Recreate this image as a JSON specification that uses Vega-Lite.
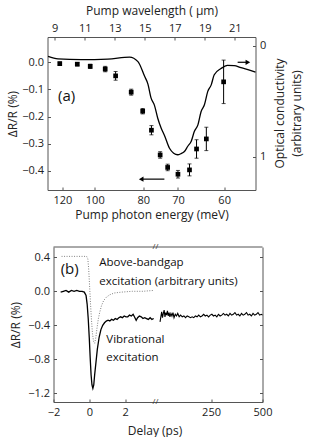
{
  "$schema": "https://vega.github.io/schema/vega-lite/v6.json",
  "background": "white",
  "padding": {"left": 6.5, "top": 4, "right": 2, "bottom": 2},
  "spacing": 23,
  "config": {
    "font": "Open Sans",
    "view": {"stroke": null},
    "axis": {
      "labelFont": "Open Sans", "titleFont": "Open Sans",
      "labelFontSize": 11, "titleFontSize": 12, "titleFontWeight": "normal",
      "labelColor": "#222", "titleColor": "#222",
      "domainColor": "#555", "tickColor": "#555",
      "grid": false, "labelFlush": false, "labelOverlap": false,
      "tickSize": -3, "labelPadding": 7
    }
  },
  "datasets": {
    "curve": [
      {"E": 131.7, "c": 0.096}, {"E": 123.4, "c": 0.118}, {"E": 107.5, "c": 0.125}, {"E": 93.7, "c": 0.12},
      {"E": 84.8, "c": 0.102}, {"E": 81.8, "c": 0.143}, {"E": 79.6, "c": 0.274}, {"E": 78.5, "c": 0.346},
      {"E": 77.5, "c": 0.473}, {"E": 76.5, "c": 0.536}, {"E": 75.5, "c": 0.654}, {"E": 74.5, "c": 0.744},
      {"E": 73.6, "c": 0.807}, {"E": 72.2, "c": 0.925}, {"E": 71.1, "c": 0.97}, {"E": 70.05, "c": 0.984},
      {"E": 69.3, "c": 0.975}, {"E": 68.4, "c": 0.955}, {"E": 67.6, "c": 0.907}, {"E": 66.8, "c": 0.862},
      {"E": 66.1, "c": 0.774}, {"E": 65.3, "c": 0.714}, {"E": 64.6, "c": 0.593}, {"E": 63.9, "c": 0.533},
      {"E": 63.2, "c": 0.412}, {"E": 62.5, "c": 0.353}, {"E": 61.9, "c": 0.262}, {"E": 60.6, "c": 0.206},
      {"E": 59.4, "c": 0.177}, {"E": 58.2, "c": 0.179}, {"E": 57.05, "c": 0.197}, {"E": 55.9, "c": 0.215},
      {"E": 54.7, "c": 0.238}
    ],
    "pts": [
      {"E": 122.0, "dr": -0.005, "lo": -0.011, "hi": 0.001},
      {"E": 109.9, "dr": -0.007, "lo": -0.013, "hi": -0.001},
      {"E": 102.4, "dr": -0.015, "lo": -0.023, "hi": -0.007},
      {"E": 94.9, "dr": -0.025, "lo": -0.035, "hi": -0.015},
      {"E": 90.3, "dr": -0.05, "lo": -0.066, "hi": -0.034},
      {"E": 84.2, "dr": -0.11, "lo": -0.121, "hi": -0.099},
      {"E": 80.2, "dr": -0.18, "lo": -0.19, "hi": -0.17},
      {"E": 77.4, "dr": -0.25, "lo": -0.267, "hi": -0.233},
      {"E": 74.8, "dr": -0.341, "lo": -0.353, "hi": -0.329},
      {"E": 72.7, "dr": -0.387, "lo": -0.399, "hi": -0.375},
      {"E": 70.0, "dr": -0.412, "lo": -0.426, "hi": -0.398},
      {"E": 67.2, "dr": -0.396, "lo": -0.418, "hi": -0.374},
      {"E": 65.6, "dr": -0.319, "lo": -0.353, "hi": -0.285},
      {"E": 63.5, "dr": -0.282, "lo": -0.325, "hi": -0.239},
      {"E": 60.1, "dr": -0.072, "lo": -0.152, "hi": 0.008}
    ],
    "arrows": [
      {"E1": 73.6, "E2": 80.7, "v": -0.43, "tipE": 80.7, "dir": "left"},
      {"E1": 57.6, "E2": 55.9, "v": 0.0, "tipE": 55.9, "dir": "right"}
    ],
    "frameB": [{"v": 0.52}],
    "dotted": [
      {"t": -1.55, "v": 0.41}, {"t": -1.0, "v": 0.41}, {"t": -0.5, "v": 0.41}, {"t": -0.15, "v": 0.41},
      {"t": -0.08, "v": 0.38}, {"t": -0.03, "v": 0.25}, {"t": 0.02, "v": 0.05}, {"t": 0.07, "v": -0.15},
      {"t": 0.12, "v": -0.33}, {"t": 0.18, "v": -0.5}, {"t": 0.24, "v": -0.59}, {"t": 0.3, "v": -0.61},
      {"t": 0.36, "v": -0.55}, {"t": 0.42, "v": -0.45}, {"t": 0.5, "v": -0.33}, {"t": 0.58, "v": -0.25},
      {"t": 0.68, "v": -0.17}, {"t": 0.8, "v": -0.11}, {"t": 0.95, "v": -0.07}, {"t": 1.15, "v": -0.04},
      {"t": 1.4, "v": -0.02}, {"t": 1.8, "v": -0.01}, {"t": 2.4, "v": 0.0}, {"t": 3.0, "v": 0.0}, {"t": 3.6, "v": 0.01}
    ],
    "solidL": [
      {"t": -1.6, "v": -0.01}, {"t": -1.45, "v": 0.0}, {"t": -1.3, "v": 0.01}, {"t": -1.15, "v": -0.01},
      {"t": -1.0, "v": 0.01}, {"t": -0.85, "v": 0.0}, {"t": -0.7, "v": 0.01}, {"t": -0.55, "v": 0.0},
      {"t": -0.4, "v": 0.0}, {"t": -0.28, "v": -0.01}, {"t": -0.18, "v": -0.05}, {"t": -0.12, "v": -0.15},
      {"t": -0.06, "v": -0.32}, {"t": 0.0, "v": -0.55}, {"t": 0.05, "v": -0.78}, {"t": 0.1, "v": -0.98},
      {"t": 0.15, "v": -1.1}, {"t": 0.2, "v": -1.14}, {"t": 0.25, "v": -1.1}, {"t": 0.3, "v": -0.98},
      {"t": 0.37, "v": -0.84}, {"t": 0.45, "v": -0.68}, {"t": 0.55, "v": -0.54}, {"t": 0.65, "v": -0.45},
      {"t": 0.75, "v": -0.4}, {"t": 0.85, "v": -0.37}, {"t": 0.95, "v": -0.35}, {"t": 1.05, "v": -0.34},
      {"t": 1.15, "v": -0.35}, {"t": 1.25, "v": -0.33}, {"t": 1.35, "v": -0.34}, {"t": 1.45, "v": -0.32},
      {"t": 1.55, "v": -0.33}, {"t": 1.65, "v": -0.31}, {"t": 1.75, "v": -0.3}, {"t": 1.85, "v": -0.31},
      {"t": 1.95, "v": -0.29}, {"t": 2.05, "v": -0.3}, {"t": 2.15, "v": -0.3}, {"t": 2.25, "v": -0.28},
      {"t": 2.35, "v": -0.29}, {"t": 2.45, "v": -0.27}, {"t": 2.55, "v": -0.31}, {"t": 2.62, "v": -0.34},
      {"t": 2.7, "v": -0.31}, {"t": 2.8, "v": -0.29}, {"t": 2.9, "v": -0.3}, {"t": 3.0, "v": -0.32},
      {"t": 3.1, "v": -0.31}, {"t": 3.2, "v": -0.32}, {"t": 3.3, "v": -0.33}, {"t": 3.4, "v": -0.31},
      {"t": 3.5, "v": -0.33}, {"t": 3.6, "v": -0.32}
    ],
    "solidR": [
      {"t": 2, "v": -0.36}, {"t": 6, "v": -0.3}, {"t": 10, "v": -0.24}, {"t": 14, "v": -0.31},
      {"t": 18, "v": -0.26}, {"t": 22, "v": -0.22}, {"t": 26, "v": -0.3}, {"t": 30, "v": -0.25},
      {"t": 34, "v": -0.28}, {"t": 38, "v": -0.23}, {"t": 42, "v": -0.29}, {"t": 46, "v": -0.25},
      {"t": 50, "v": -0.3}, {"t": 55, "v": -0.26}, {"t": 60, "v": -0.29}, {"t": 65, "v": -0.25},
      {"t": 70, "v": -0.31}, {"t": 76, "v": -0.27}, {"t": 82, "v": -0.29}, {"t": 88, "v": -0.26},
      {"t": 95, "v": -0.3}, {"t": 102, "v": -0.28}, {"t": 110, "v": -0.3}, {"t": 118, "v": -0.29},
      {"t": 126, "v": -0.31}, {"t": 134, "v": -0.29}, {"t": 142, "v": -0.3}, {"t": 150, "v": -0.31},
      {"t": 158, "v": -0.3}, {"t": 166, "v": -0.31}, {"t": 174, "v": -0.29}, {"t": 182, "v": -0.3},
      {"t": 190, "v": -0.28}, {"t": 198, "v": -0.3}, {"t": 206, "v": -0.29}, {"t": 214, "v": -0.27},
      {"t": 222, "v": -0.29}, {"t": 230, "v": -0.28}, {"t": 238, "v": -0.3}, {"t": 246, "v": -0.28},
      {"t": 254, "v": -0.27}, {"t": 262, "v": -0.29}, {"t": 270, "v": -0.28}, {"t": 278, "v": -0.3},
      {"t": 286, "v": -0.27}, {"t": 294, "v": -0.29}, {"t": 302, "v": -0.28}, {"t": 310, "v": -0.26},
      {"t": 318, "v": -0.28}, {"t": 326, "v": -0.27}, {"t": 334, "v": -0.29}, {"t": 342, "v": -0.26},
      {"t": 350, "v": -0.28}, {"t": 358, "v": -0.27}, {"t": 366, "v": -0.25}, {"t": 374, "v": -0.28},
      {"t": 382, "v": -0.27}, {"t": 390, "v": -0.29}, {"t": 398, "v": -0.26}, {"t": 406, "v": -0.28},
      {"t": 414, "v": -0.27}, {"t": 422, "v": -0.25}, {"t": 430, "v": -0.28}, {"t": 438, "v": -0.27},
      {"t": 446, "v": -0.29}, {"t": 454, "v": -0.26}, {"t": 462, "v": -0.28}, {"t": 470, "v": -0.27},
      {"t": 478, "v": -0.25}, {"t": 486, "v": -0.28}, {"t": 494, "v": -0.27}, {"t": 500, "v": -0.28}
    ]
  },
  "vconcat": [
    {
      "width": 208,
      "height": 153,
      "layer": [
        {
          "data": {"name": "curve"},
          "mark": {"type": "line", "color": "black", "strokeWidth": 1.3, "interpolate": "monotone"},
          "encoding": {
            "x": {"field": "E", "type": "quantitative", "scale": {"type": "pow", "exponent": -1, "domain": [132.2, 54.7], "zero": false, "nice": false}, "axis": null},
            "y": {"field": "c", "type": "quantitative",
              "scale": {"domain": [-0.079, 1.302], "reverse": true, "zero": false, "nice": false},
              "axis": {"orient": "right", "values": [0, 1], "tickCount": 10, "format": "d", "title": ["Optical conductivity", "(arbitrary units)"], "titleAngle": 270, "titleBaseline": "top", "titleAlign": "center", "titleLineHeight": 17, "titleX": 19, "titleY": 76}
            }
          }
        },
        {
          "layer": [
            {
              "data": {"name": "pts"},
              "mark": {"type": "rule", "color": "black", "strokeWidth": 1},
              "encoding": {
                "x": {"field": "E", "type": "quantitative", "scale": {"type": "pow", "exponent": -1, "domain": [132.2, 54.7], "zero": false, "nice": false},
                  "axis": {"orient": "bottom", "values": [120, 100, 80, 70, 60], "tickCount": 10, "format": "d", "title": "Pump photon energy (meV)", "titlePadding": 4}},
                "y": {"field": "lo", "type": "quantitative", "scale": {"domain": [-0.47, 0.093], "zero": false, "nice": false},
                  "axis": {"orient": "left", "values": [0, -0.1, -0.2, -0.3, -0.4], "tickCount": 10, "format": ".1f", "title": "ΔR/R (%)", "titlePadding": 2}},
                "y2": {"field": "hi"}
              }
            },
            {
              "data": {"name": "pts"},
              "mark": {"type": "tick", "color": "black", "size": 4, "thickness": 1, "orient": "horizontal"},
              "encoding": {
                "x": {"field": "E", "type": "quantitative"},
                "y": {"field": "lo", "type": "quantitative"}
              }
            },
            {
              "data": {"name": "pts"},
              "mark": {"type": "tick", "color": "black", "size": 4, "thickness": 1, "orient": "horizontal"},
              "encoding": {
                "x": {"field": "E", "type": "quantitative"},
                "y": {"field": "hi", "type": "quantitative"}
              }
            },
            {
              "data": {"name": "pts"},
              "mark": {"type": "square", "color": "black", "opacity": 1, "size": 22},
              "encoding": {
                "x": {"field": "E", "type": "quantitative"},
                "y": {"field": "dr", "type": "quantitative"}
              }
            },
            {
              "data": {"name": "arrows"},
              "mark": {"type": "rule", "color": "black", "strokeWidth": 1.2},
              "encoding": {
                "x": {"field": "E1", "type": "quantitative"},
                "x2": {"field": "E2"},
                "y": {"field": "v", "type": "quantitative"}
              }
            },
            {
              "data": {"name": "arrows"},
              "mark": {"type": "point", "filled": true, "color": "black", "opacity": 1, "size": 28},
              "encoding": {
                "x": {"field": "tipE", "type": "quantitative"},
                "y": {"field": "v", "type": "quantitative"},
                "shape": {"field": "dir", "type": "nominal", "scale": {"domain": ["left", "right"], "range": ["triangle-left", "triangle-right"]}, "legend": null}
              }
            },
            {
              "data": {"values": [{"E": 123.4, "v": -0.125, "label": "(a)"}]},
              "mark": {"type": "text", "align": "left", "baseline": "middle", "fontSize": 15, "font": "Open Sans", "color": "#111"},
              "encoding": {
                "x": {"field": "E", "type": "quantitative"},
                "y": {"field": "v", "type": "quantitative"},
                "text": {"field": "label"}
              }
            }
          ]
        },
        {
          "data": {"values": [{"lam": 15}]},
          "mark": {"type": "point", "opacity": 0},
          "encoding": {
            "x": {"field": "lam", "type": "quantitative", "scale": {"domain": [8.52, 22.38], "zero": false, "nice": false},
              "axis": {"orient": "top", "values": [9, 11, 13, 15, 17, 19, 21], "tickCount": 10, "format": "d", "title": "Pump wavelength ( μm)", "titlePadding": 5}}
          }
        }
      ],
      "resolve": {"scale": {"x": "independent", "y": "independent"}, "axis": {"x": "independent", "y": "independent"}}
    },
    {
      "spacing": 0,
      "bounds": "flush",
      "hconcat": [
        {
          "width": 6,
          "height": 155,
          "data": {"values": [{}]},
          "mark": {"type": "point", "opacity": 0},
          "encoding": {}
        },
        {
          "width": 209,
          "height": 155,
          "layer": [
            {
              "layer": [
                {
                  "data": {"name": "dotted"},
                  "mark": {"type": "line", "color": "#808080", "strokeWidth": 1, "strokeDash": [1, 1.5]},
                  "encoding": {
                    "x": {"field": "t", "type": "quantitative", "scale": {"domain": [-2, 3.7], "range": [0, 102], "zero": false, "nice": false},
                      "axis": {"orient": "bottom", "values": [-2, 0, 2], "tickCount": 10, "format": "d", "title": "Delay (ps)", "titleX": 101, "titleAlign": "center", "titlePadding": 8}},
                    "y": {"field": "v", "type": "quantitative", "scale": {"domain": [-1.3, 0.52], "zero": false, "nice": false},
                      "axis": {"orient": "left", "values": [0.4, 0, -0.4, -0.8, -1.2], "tickCount": 10, "format": ".1f", "title": "ΔR/R (%)", "titlePadding": 5.5, "labelOverlap": false}}
                  }
                },
                {
                  "data": {"name": "solidL"},
                  "mark": {"type": "line", "color": "black", "strokeWidth": 1.3},
                  "encoding": {
                    "x": {"field": "t", "type": "quantitative"},
                    "y": {"field": "v", "type": "quantitative"}
                  }
                },
                {
                  "data": {"name": "frameB"},
                  "mark": {"type": "rule", "color": "#555", "strokeWidth": 1},
                  "encoding": {"y": {"field": "v", "type": "quantitative"}}
                },
                {
                  "data": {"values": [{"t": -1.6, "v": 0.26, "label": "(b)"}]},
                  "mark": {"type": "text", "align": "left", "baseline": "middle", "fontSize": 15, "font": "Open Sans", "color": "#111"},
                  "encoding": {
                    "x": {"field": "t", "type": "quantitative"},
                    "y": {"field": "v", "type": "quantitative"},
                    "text": {"field": "label"}
                  }
                },
                {
                  "data": {"values": [
                    {"t": 0.56, "v": 0.33, "label": "Above-bandgap"},
                    {"t": 0.56, "v": 0.11, "label": "excitation (arbitrary units)"},
                    {"t": 0.95, "v": -0.57, "label": "Vibrational"},
                    {"t": 0.95, "v": -0.78, "label": "excitation"}
                  ]},
                  "mark": {"type": "text", "align": "left", "baseline": "middle", "fontSize": 11.5, "font": "Open Sans", "color": "#111"},
                  "encoding": {
                    "x": {"field": "t", "type": "quantitative"},
                    "y": {"field": "v", "type": "quantitative"},
                    "text": {"field": "label"}
                  }
                },
                {
                  "data": {"values": [{"t": 3.7, "v": 0.52}, {"t": 3.7, "v": -1.3}]},
                  "mark": {"type": "text", "align": "center", "baseline": "middle", "fontSize": 8, "font": "Open Sans", "color": "#333", "text": "//"},
                  "encoding": {
                    "x": {"field": "t", "type": "quantitative"},
                    "y": {"field": "v", "type": "quantitative"}
                  }
                }
              ]
            },
            {
              "data": {"name": "solidR"},
              "mark": {"type": "line", "color": "black", "strokeWidth": 1.1},
              "encoding": {
                "x": {"field": "t", "type": "quantitative", "scale": {"domain": [-20, 500], "range": [102, 209], "zero": false, "nice": false},
                  "axis": {"orient": "bottom", "values": [250, 500], "tickCount": 10, "format": "d", "title": null}},
                "y": {"field": "v", "type": "quantitative", "scale": {"domain": [-1.3, 0.52], "zero": false, "nice": false},
                  "axis": {"orient": "right", "values": [0.4, 0, -0.4, -0.8, -1.2], "tickCount": 10, "labels": false, "title": null}}
              }
            }
          ],
          "resolve": {"scale": {"x": "independent", "y": "independent"}, "axis": {"x": "independent", "y": "independent"}}
        }
      ]
    }
  ]
}
